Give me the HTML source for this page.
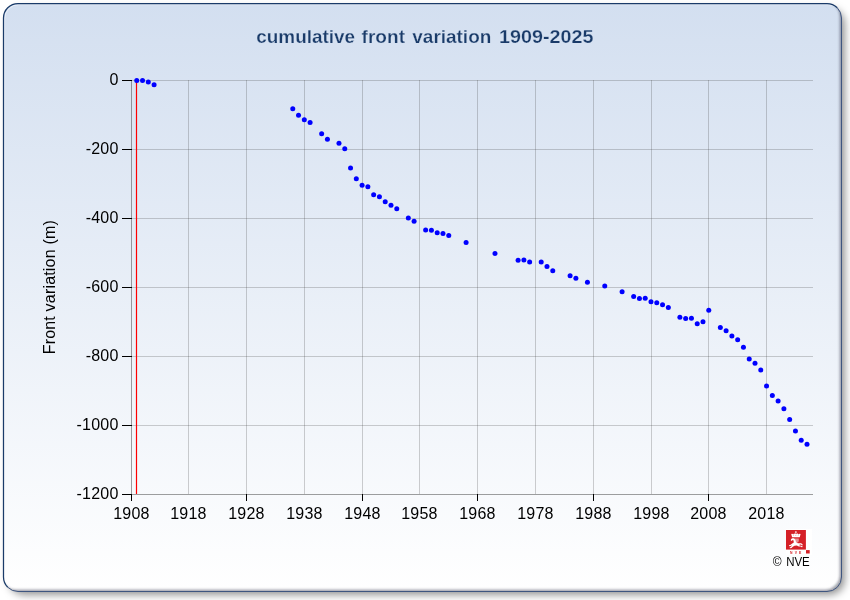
<!DOCTYPE html>
<html lang="en">
<head>
<meta charset="utf-8">
<title>cumulative front variation 1909-2025</title>
<style>
html,body{margin:0;padding:0;background:#fff;}
body{width:850px;height:600px;overflow:hidden;}
svg{display:block;}
.lbl{font-family:"Liberation Sans",Arial,sans-serif;font-size:16px;fill:#000;letter-spacing:0.2px;}
.ttl{font-family:"Liberation Sans",Arial,sans-serif;font-weight:bold;font-size:19px;fill:#1a3b69;stroke:#d5e1f1;stroke-width:0.25px;}
.cpy{font-family:"Liberation Sans",Arial,sans-serif;font-size:12px;fill:#000;}
.nve{font-family:"Liberation Sans",Arial,sans-serif;font-weight:bold;font-size:3.4px;fill:#d52027;letter-spacing:2.15px;}
</style>
</head>
<body>
<svg width="850" height="600" viewBox="0 0 850 600">
<defs>
<linearGradient id="bg" x1="0" y1="0" x2="0" y2="1">
<stop offset="0" stop-color="#d3dff0"/>
<stop offset="1" stop-color="#ffffff"/>
</linearGradient>
<filter id="sh" x="-5%" y="-5%" width="110%" height="110%">
<feGaussianBlur stdDeviation="4"/>
</filter>
<filter id="ish" x="-5%" y="-5%" width="110%" height="110%">
<feGaussianBlur stdDeviation="1.1"/>
</filter>
<clipPath id="pclip"><rect x="3.5" y="3.5" width="838" height="588" rx="14.5" ry="14.5"/></clipPath>
</defs>
<rect x="0" y="0" width="850" height="600" fill="#ffffff"/>
<rect x="9" y="9" width="835.5" height="585.5" rx="15" ry="15" fill="#000" fill-opacity="0.45" filter="url(#sh)"/>
<rect x="3.5" y="3.5" width="838" height="588" rx="14.5" ry="14.5" fill="url(#bg)"/>
<g clip-path="url(#pclip)">
<path d="M-20 -20 H870 V620 H-20 Z M16 1.5 H825 A14.5 14.5 0 0 1 839.5 16 V575 A14.5 14.5 0 0 1 825 589.5 H16 A14.5 14.5 0 0 1 1.5 575 V16 A14.5 14.5 0 0 1 16 1.5 Z" fill="#303848" fill-opacity="0.45" fill-rule="evenodd" filter="url(#ish)"/>
<rect x="4.7" y="4.7" width="838" height="588" rx="14" ry="14" fill="none" stroke="#ffffff" stroke-opacity="0.55" stroke-width="0.9"/>
</g>
<path d="M7.75 587.25 A14.5 14.5 0 0 1 3.5 577 V18 A14.5 14.5 0 0 1 18 3.5 H827 A14.5 14.5 0 0 1 837.25 7.75" fill="none" stroke="#1a3b69" stroke-width="1.25"/>
<path d="M837.25 7.75 A14.5 14.5 0 0 1 841.5 18 V577 A14.5 14.5 0 0 1 827 591.5 H18 A14.5 14.5 0 0 1 7.75 587.25" fill="none" stroke="#3f5680" stroke-width="1"/>
<text class="ttl" y="43.2"><tspan x="256.3" textLength="98.8" lengthAdjust="spacingAndGlyphs">cumulative</tspan> <tspan x="361.6" textLength="43.4" lengthAdjust="spacingAndGlyphs">front</tspan> <tspan x="412.3" textLength="79.0" lengthAdjust="spacingAndGlyphs">variation</tspan> <tspan x="499.0" textLength="94.4" lengthAdjust="spacingAndGlyphs">1909-2025</tspan></text>
<g shape-rendering="crispEdges" stroke="#404040" stroke-opacity="0.25" stroke-width="1" fill="none">
<line x1="131" y1="80.5" x2="813" y2="80.5"/>
<line x1="131" y1="149.5" x2="813" y2="149.5"/>
<line x1="131" y1="218.5" x2="813" y2="218.5"/>
<line x1="131" y1="287.5" x2="813" y2="287.5"/>
<line x1="131" y1="356.5" x2="813" y2="356.5"/>
<line x1="131" y1="425.5" x2="813" y2="425.5"/>
<line x1="188.5" y1="80" x2="188.5" y2="494"/>
<line x1="246.5" y1="80" x2="246.5" y2="494"/>
<line x1="304.5" y1="80" x2="304.5" y2="494"/>
<line x1="362.5" y1="80" x2="362.5" y2="494"/>
<line x1="419.5" y1="80" x2="419.5" y2="494"/>
<line x1="477.5" y1="80" x2="477.5" y2="494"/>
<line x1="535.5" y1="80" x2="535.5" y2="494"/>
<line x1="593.5" y1="80" x2="593.5" y2="494"/>
<line x1="651.5" y1="80" x2="651.5" y2="494"/>
<line x1="708.5" y1="80" x2="708.5" y2="494"/>
<line x1="766.5" y1="80" x2="766.5" y2="494"/>
</g>
<g shape-rendering="crispEdges" stroke="#404040" stroke-opacity="0.5" stroke-width="1" fill="none">
<line x1="131.5" y1="80" x2="131.5" y2="495"/>
<line x1="131" y1="494.5" x2="813" y2="494.5"/>
</g>
<g shape-rendering="crispEdges" stroke="#000" stroke-width="1" fill="none">
<line x1="122" y1="80.5" x2="132" y2="80.5"/>
<line x1="122" y1="149.5" x2="132" y2="149.5"/>
<line x1="122" y1="218.5" x2="132" y2="218.5"/>
<line x1="122" y1="287.5" x2="132" y2="287.5"/>
<line x1="122" y1="356.5" x2="132" y2="356.5"/>
<line x1="122" y1="425.5" x2="132" y2="425.5"/>
<line x1="122" y1="494.5" x2="132" y2="494.5"/>
<line x1="131.5" y1="494" x2="131.5" y2="501"/>
<line x1="246.5" y1="494" x2="246.5" y2="501"/>
<line x1="362.5" y1="494" x2="362.5" y2="501"/>
<line x1="477.5" y1="494" x2="477.5" y2="501"/>
<line x1="593.5" y1="494" x2="593.5" y2="501"/>
<line x1="708.5" y1="494" x2="708.5" y2="501"/>
</g>
<line x1="136.5" y1="80.5" x2="136.5" y2="494" stroke="#ff0000" stroke-width="1.2"/>
<g class="lbl" text-anchor="end">
<text x="118.5" y="85.2">0</text>
<text x="118.5" y="154.2">-200</text>
<text x="118.5" y="223.2">-400</text>
<text x="118.5" y="292.2">-600</text>
<text x="118.5" y="361.2">-800</text>
<text x="118.5" y="430.2">-1000</text>
<text x="118.5" y="499.2">-1200</text>
</g>
<g class="lbl" text-anchor="middle">
<text x="131.4" y="518.7">1908</text>
<text x="188.4" y="518.7">1918</text>
<text x="246.4" y="518.7">1928</text>
<text x="304.4" y="518.7">1938</text>
<text x="362.4" y="518.7">1948</text>
<text x="419.4" y="518.7">1958</text>
<text x="477.4" y="518.7">1968</text>
<text x="535.4" y="518.7">1978</text>
<text x="593.4" y="518.7">1988</text>
<text x="651.4" y="518.7">1998</text>
<text x="708.4" y="518.7">2008</text>
<text x="766.4" y="518.7">2018</text>
</g>
<text class="lbl" transform="translate(55.2 354.3) rotate(-90)" textLength="134.3" lengthAdjust="spacing">Front variation (m)</text>
<g fill="#0000ff">
<circle cx="136.75" cy="80.60" r="2.5"/>
<circle cx="142.53" cy="80.50" r="2.5"/>
<circle cx="148.31" cy="82.00" r="2.5"/>
<circle cx="154.08" cy="84.80" r="2.5"/>
<circle cx="292.76" cy="108.80" r="2.5"/>
<circle cx="298.53" cy="115.20" r="2.5"/>
<circle cx="304.31" cy="119.70" r="2.5"/>
<circle cx="310.09" cy="122.50" r="2.5"/>
<circle cx="321.65" cy="133.70" r="2.5"/>
<circle cx="327.42" cy="139.30" r="2.5"/>
<circle cx="338.98" cy="143.30" r="2.5"/>
<circle cx="344.76" cy="148.70" r="2.5"/>
<circle cx="350.54" cy="168.00" r="2.5"/>
<circle cx="356.31" cy="178.80" r="2.5"/>
<circle cx="362.09" cy="185.20" r="2.5"/>
<circle cx="367.87" cy="186.80" r="2.5"/>
<circle cx="373.65" cy="194.80" r="2.5"/>
<circle cx="379.43" cy="196.70" r="2.5"/>
<circle cx="385.20" cy="201.70" r="2.5"/>
<circle cx="390.98" cy="205.20" r="2.5"/>
<circle cx="396.76" cy="208.70" r="2.5"/>
<circle cx="408.32" cy="218.00" r="2.5"/>
<circle cx="414.09" cy="221.30" r="2.5"/>
<circle cx="425.65" cy="230.00" r="2.5"/>
<circle cx="431.43" cy="230.20" r="2.5"/>
<circle cx="437.21" cy="232.80" r="2.5"/>
<circle cx="442.98" cy="233.50" r="2.5"/>
<circle cx="448.76" cy="235.50" r="2.5"/>
<circle cx="466.10" cy="242.50" r="2.5"/>
<circle cx="494.99" cy="253.40" r="2.5"/>
<circle cx="518.10" cy="260.20" r="2.5"/>
<circle cx="523.88" cy="260.00" r="2.5"/>
<circle cx="529.65" cy="262.00" r="2.5"/>
<circle cx="541.21" cy="262.00" r="2.5"/>
<circle cx="546.99" cy="266.50" r="2.5"/>
<circle cx="552.77" cy="270.70" r="2.5"/>
<circle cx="570.10" cy="275.80" r="2.5"/>
<circle cx="575.88" cy="278.30" r="2.5"/>
<circle cx="587.43" cy="282.20" r="2.5"/>
<circle cx="604.77" cy="286.00" r="2.5"/>
<circle cx="622.10" cy="291.70" r="2.5"/>
<circle cx="633.66" cy="296.50" r="2.5"/>
<circle cx="639.44" cy="298.50" r="2.5"/>
<circle cx="645.21" cy="298.30" r="2.5"/>
<circle cx="650.99" cy="301.70" r="2.5"/>
<circle cx="656.77" cy="302.80" r="2.5"/>
<circle cx="662.55" cy="304.70" r="2.5"/>
<circle cx="668.33" cy="307.50" r="2.5"/>
<circle cx="679.88" cy="317.20" r="2.5"/>
<circle cx="685.66" cy="318.50" r="2.5"/>
<circle cx="691.44" cy="318.20" r="2.5"/>
<circle cx="697.22" cy="323.70" r="2.5"/>
<circle cx="702.99" cy="321.80" r="2.5"/>
<circle cx="708.77" cy="310.30" r="2.5"/>
<circle cx="720.33" cy="327.60" r="2.5"/>
<circle cx="726.11" cy="330.80" r="2.5"/>
<circle cx="731.88" cy="336.00" r="2.5"/>
<circle cx="737.66" cy="339.70" r="2.5"/>
<circle cx="743.44" cy="347.20" r="2.5"/>
<circle cx="749.22" cy="358.90" r="2.5"/>
<circle cx="755.00" cy="363.20" r="2.5"/>
<circle cx="760.77" cy="370.10" r="2.5"/>
<circle cx="766.55" cy="386.10" r="2.5"/>
<circle cx="772.33" cy="395.50" r="2.5"/>
<circle cx="778.11" cy="401.00" r="2.5"/>
<circle cx="783.89" cy="408.70" r="2.5"/>
<circle cx="789.66" cy="419.50" r="2.5"/>
<circle cx="795.44" cy="430.90" r="2.5"/>
<circle cx="801.22" cy="440.20" r="2.5"/>
<circle cx="807.00" cy="444.30" r="2.5"/>
</g>
<g>
<rect x="785.8" y="529" width="26.2" height="26" fill="#ffffff"/>
<rect x="786" y="530" width="19.9" height="19.6" fill="#d52027"/>
<rect x="806" y="550.1" width="3.7" height="3.4" fill="#d52027"/>
<text class="nve" x="790.1" y="553.5">NVE</text>
<g fill="#ffffff" stroke="none">
<rect x="795.55" y="531" width="0.7" height="2.5"/>
<rect x="794.9" y="531.8" width="2" height="0.6"/>
<path d="M791.2 533.9 Q792.6 533.3 793.3 534.5 L794.2 533.3 L795 534.3 L795.9 533.2 L796.8 534.3 L797.6 533.3 L798.5 534.5 Q799.2 533.3 800.6 533.9 L799.7 537.2 L792.1 537.2 Z"/>
<path d="M790.9 539.6 c0.5 -1.2 1.9 -1.7 3.3 -1.3 l1.1 1.4 c0.5 1.8 0.9 2.9 2.6 3.5 c1.6 0.3 3 -0.3 4 0.6 l1 1.3 l-0.9 0.3 l-1 -0.9 c-0.9 -0.2 -1.4 0.1 -2.1 0.4 l1.6 0.9 l1.6 0.3 l0.7 1 l-1.1 0.1 l-0.9 -0.6 l-2 -0.1 l-2 -0.9 l-2.3 0.1 l-1.7 1 l-1.3 1.2 l-1.5 0.3 l-0.4 -0.7 l1.3 -0.6 l1.2 -1.6 l-1.8 0.9 l-1.3 -0.1 l0 -0.8 l1.2 -0.3 l2 -1.5 l1.4 -0.7 c0.3 -1.1 0 -1.9 -0.5 -2.7 l-1.3 0.3 l-0.9 0.8 z"/>
<path d="M794.9 538.5 l3.9 0 l0 2.3 c0 1 -0.8 1.6 -1.9 2 c-0.6 -0.2 -1 -0.4 -1.3 -0.8 l-0.7 -1.6 z" fill-opacity="0.5"/>
</g>
<g fill="#d52027"><circle cx="793.7" cy="535.5" r="0.35"/><circle cx="795.9" cy="535.6" r="0.35"/><circle cx="798.1" cy="535.5" r="0.35"/></g>
</g>
<text class="cpy" x="772.7" y="565.6">© <tspan x="786.2" textLength="23.6" lengthAdjust="spacingAndGlyphs">NVE</tspan></text>
</svg>
</body>
</html>
